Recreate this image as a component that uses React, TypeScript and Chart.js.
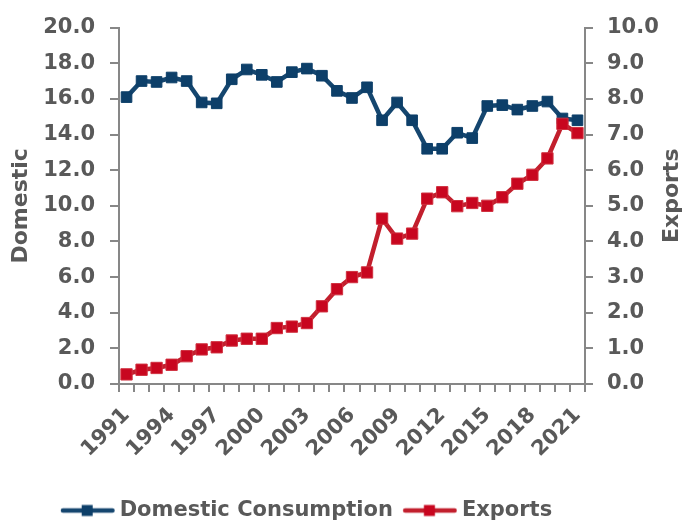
import React, { useEffect, useRef } from 'react';
import { Chart, registerables } from 'chart.js';

Chart.register(...registerables);

const years = ['1991','1992','1993','1994','1995','1996','1997','1998','1999','2000','2001','2002','2003','2004','2005','2006','2007','2008','2009','2010','2011','2012','2013','2014','2015','2016','2017','2018','2019','2020','2021'];
const domestic = [16.1,17.0,16.95,17.2,17.0,15.8,15.75,17.1,17.65,17.35,16.95,17.5,17.7,17.3,16.45,16.05,16.65,14.8,15.8,14.8,13.2,13.2,14.1,13.8,15.6,15.65,15.4,15.6,15.85,14.9,14.8];
const exportsData = [0.27,0.4,0.45,0.54,0.78,0.97,1.03,1.22,1.27,1.27,1.57,1.61,1.71,2.18,2.66,3.0,3.13,4.64,4.08,4.22,5.2,5.38,4.99,5.08,5.0,5.24,5.62,5.87,6.33,7.3,7.04];
const seriesNames = ['Domestic Consumption', 'Exports'];
const leftTitle = 'Domestic';
const rightTitle = 'Exports';

const FONT = '"DejaVu Sans", sans-serif';
const TEXT = '#595959';
const AXIS = '#878787';
const BLUE_LINE = '#15466f';
const BLUE_PT = '#0d3f69';
const RED_LINE = '#c21f2d';
const RED_PT = '#c8061f';

function makeIcon(line: string, fill: string) {
  const c = document.createElement('canvas');
  c.width = 62;
  c.height = 14;
  const g = c.getContext('2d')!;
  g.strokeStyle = line;
  g.lineWidth = 4.5;
  g.lineCap = 'round';
  g.beginPath();
  g.moveTo(10, 7);
  g.lineTo(59.5, 7);
  g.stroke();
  g.fillStyle = fill;
  g.fillRect(28.75, 1.5, 11, 11);
  return c;
}

export default function App() {
  const ref = useRef<HTMLCanvasElement>(null);
  useEffect(() => {
    const icons = [makeIcon(BLUE_LINE, BLUE_PT), makeIcon(RED_LINE, RED_PT)];
    const rightTitlePlugin = {
      id: 'rightTitle',
      afterDraw(chart: any) {
        const { ctx, chartArea } = chart;
        ctx.save();
        ctx.translate(chart.width - 14, (chartArea.top + chartArea.bottom) / 2 - 10);
        ctx.rotate(-Math.PI / 2);
        ctx.font = `bold 22px ${FONT}`;
        ctx.fillStyle = TEXT;
        ctx.textAlign = 'center';
        ctx.textBaseline = 'middle';
        ctx.fillText(rightTitle, 0, 0);
        ctx.restore();
      },
    };
    const legendShift = {
      id: 'legendShift',
      afterLayout(chart: any) {
        const lg = chart.legend;
        if (!lg) return;
        const dx = -31;
        const dy = 525 - 41 + 8 - lg.top;
        lg.left += dx;
        lg.right += dx;
        lg.top += dy;
        lg.bottom += dy;
      },
    };
    const chart = new Chart(ref.current!, {
      type: 'line',
      data: {
        labels: years,
        datasets: [
          {
            label: seriesNames[0],
            data: domestic,
            yAxisID: 'y',
            borderColor: BLUE_LINE,
            backgroundColor: BLUE_PT,
            pointBackgroundColor: BLUE_PT,
            pointBorderColor: BLUE_PT,
            borderWidth: 4.5,
            pointStyle: 'rect',
            pointRadius: 7.5,
            pointBorderWidth: 1,
            order: 1,
          },
          {
            label: seriesNames[1],
            data: exportsData,
            yAxisID: 'y1',
            borderColor: RED_LINE,
            backgroundColor: RED_PT,
            pointBackgroundColor: RED_PT,
            pointBorderColor: '#d0303f',
            borderWidth: 4.5,
            pointStyle: 'rect',
            pointRadius: 8,
            pointBorderWidth: 1,
            order: 0,
          },
        ],
      },
      options: {
        animation: false,
        responsive: true,
        maintainAspectRatio: false,
        layout: { padding: { top: 24, left: 0, right: 13.2, bottom: 12.85 } },
        plugins: {
          tooltip: { enabled: false },
          legend: {
            position: 'bottom',
            labels: {
              usePointStyle: true,
              pointStyleWidth: 50.5,
              padding: 8,
              color: TEXT,
              font: { family: FONT, size: 21, weight: 'bold' },
              sort: (a: any, b: any) => a.datasetIndex - b.datasetIndex,
              generateLabels: (c: any) => {
                const items = (Chart.defaults.plugins.legend.labels as any).generateLabels(c);
                return items.map((it: any) => ({ ...it, pointStyle: icons[it.datasetIndex] }));
              },
            },
          },
        },
        scales: {
          x: {
            offset: true,
            grid: { display: true, offset: true, drawOnChartArea: false, drawTicks: true, tickLength: 8, color: AXIS, lineWidth: 2 },
            border: { display: true, color: AXIS, width: 2 },
            ticks: {
              autoSkip: false,
              maxRotation: 45,
              minRotation: 45,
              padding: 11,
              color: TEXT,
              font: { family: FONT, size: 21, weight: 'bold' },
              callback: (_v: any, i: number) => (i % 3 === 0 ? years[i] : ''),
            },
          },
          y: {
            position: 'left',
            min: 0,
            max: 20,
            grid: { drawOnChartArea: false, tickLength: 9, color: AXIS, lineWidth: 2 },
            border: { display: true, color: AXIS, width: 2 },
            ticks: {
              stepSize: 2,
              padding: 15,
              color: TEXT,
              font: { family: FONT, size: 21, weight: 'bold' },
              callback: (v: any) => Number(v).toFixed(1),
            },
            title: {
              display: true,
              text: leftTitle,
              color: TEXT,
              font: { family: FONT, size: 22, weight: 'bold' },
              padding: { top: 7.8, bottom: -6 },
            },
          },
          y1: {
            position: 'right',
            min: 0,
            max: 10,
            grid: { drawOnChartArea: false, tickLength: 8, color: AXIS, lineWidth: 2 },
            border: { display: true, color: AXIS, width: 2 },
            ticks: {
              stepSize: 1,
              padding: 14,
              color: TEXT,
              font: { family: FONT, size: 21, weight: 'bold' },
              callback: (v: any) => Number(v).toFixed(1),
            },
          },
        },
      },
      plugins: [rightTitlePlugin, legendShift],
    } as any);
    return () => chart.destroy();
  }, []);
  return (
    <div style={{ position: 'fixed', left: 0, top: 0, width: 686, height: 525 }}>
      <canvas ref={ref} style={{ display: 'block' }} />
    </div>
  );
}
